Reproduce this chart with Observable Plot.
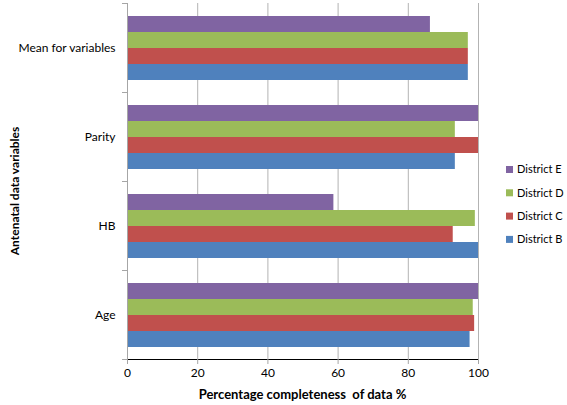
<!DOCTYPE html>
<html><head><meta charset="utf-8">
<script src="https://cdn.jsdelivr.net/npm/d3@7"></script>
<script src="https://cdn.jsdelivr.net/npm/@observablehq/plot@0.6"></script>
<style>
body{margin:0;background:#fff;}
#wrap{position:relative;width:567px;height:405px;}
</style></head><body><div id="wrap"></div>
<script>
const categories = ["Mean for variables", "Parity", "HB", "Age"];
const districts = ["District E", "District D", "District C", "District B"];
const colors = ["#8064A2", "#9BBB59", "#C0504D", "#4F81BD"];
const districtE = [86.3, 100, 58.8, 100];
const districtD = [97.1, 93.4, 99.1, 98.5];
const districtC = [97.1, 100, 92.8, 98.9];
const districtB = [97.1, 93.4, 100, 97.6];
const xTicks = [0, 20, 40, 60, 80, 100];
const xTitle = "Percentage completeness  of data %";
const yTitle = "Antenatal data variables";

const series = [districtE, districtD, districtC, districtB];
const data = categories.flatMap((c, i) => districts.map((d, j) => ({category: c, district: d, value: series[j][i]})));

const FONT = "Lato, 'Open Sans', sans-serif";

const chart = Plot.plot({
  width: 567, height: 405,
  marginLeft: 127, marginRight: 89, marginTop: 1, marginBottom: 45,
  style: {fontFamily: FONT, fontSize: "12px", color: "#000", background: "#fff", overflow: "visible"},
  x: {domain: [0, 100], ticks: xTicks, tickSize: 5, tickPadding: 4, label: null, line: true},
  y: {domain: districts, paddingInner: 0, paddingOuter: 0.75, axis: null},
  fy: {domain: categories, padding: 0, label: null, tickSize: 0, tickPadding: 12},
  color: {domain: districts, range: colors},
  marks: [
    Plot.ruleX(xTicks.slice(1), {stroke: "#b3b3b3", strokeWidth: 1}),
    Plot.barX(data, {fy: "category", y: "district", x: "value", fill: "district", inset: 0}),
    Plot.ruleX([0], {stroke: "#a6a6a6", strokeWidth: 1})
  ]
});

document.getElementById("wrap").appendChild(chart);

const svg = d3.select(chart);
svg.selectAll("[aria-label^='x-axis'] path, [aria-label^='x-axis'] line").attr("stroke", "#a6a6a6");
svg.selectAll("[aria-label^='x-axis'] text").attr("fill", "#000");

const xs = chart.scale("x");
const fys = chart.scale("fy");
const x0 = xs.apply(0);
const x1 = xs.apply(100);
const bw = fys.bandwidth;
const boundaries = categories.map(c => fys.apply(c)).concat([fys.apply(categories[categories.length - 1]) + bw]);

const g = svg.append("g").attr("text-anchor", "start");
g.selectAll("line.bt").data(boundaries).join("line")
  .attr("x1", x0 - 5).attr("x2", x0).attr("y1", d => d + 0.5).attr("y2", d => d + 0.5)
  .attr("stroke", "#a6a6a6");

const yTop = boundaries[0];
const yBot = boundaries[boundaries.length - 1];

// axis titles
g.append("text").text(xTitle)
  .attr("x", (x0 + x1) / 2).attr("y", yBot + 40)
  .attr("text-anchor", "middle").attr("font-weight", "bold").attr("font-size", 13)
  .attr("font-family", FONT).attr("fill", "#000");
g.append("text").text(yTitle)
  .attr("transform", `translate(19,${(yTop + yBot) / 2 + 10}) rotate(-90)`)
  .attr("text-anchor", "middle").attr("font-weight", "bold").attr("font-size", 12)
  .attr("font-family", FONT).attr("fill", "#000");

// legend
const cs = chart.scale("color");
const lg = g.append("g").attr("transform", "translate(506,169.5)");
const item = lg.selectAll("g").data(districts).join("g")
  .attr("transform", (d, i) => `translate(0,${i * 23.3})`);
item.append("rect").attr("x", 0).attr("y", -3.5).attr("width", 7).attr("height", 7)
  .attr("fill", d => cs.apply(d));
item.append("text").text(d => d).attr("x", 11).attr("y", 0).attr("dy", "0.35em")
  .attr("text-anchor", "start")
  .attr("font-size", 11).attr("font-family", FONT).attr("fill", "#000");
</script></body></html>
